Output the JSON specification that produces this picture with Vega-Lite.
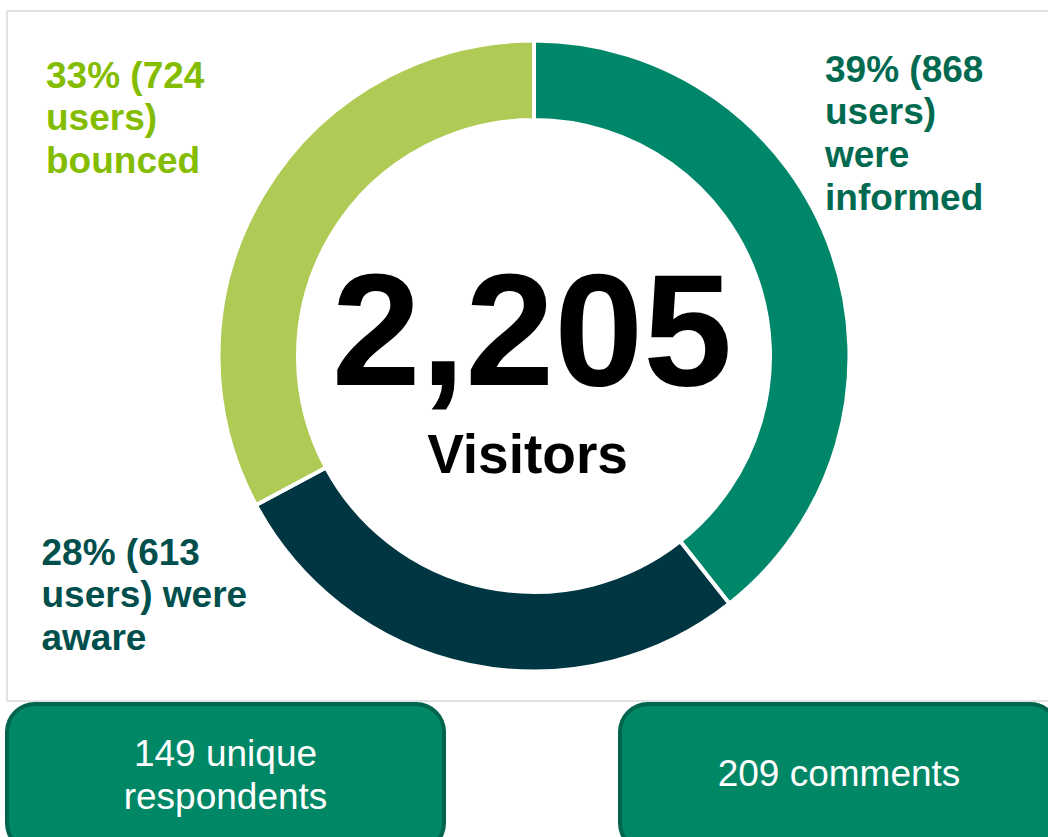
{
  "$schema": "https://vega.github.io/schema/vega-lite/v6.json",
  "background": "white",
  "padding": {"left": 5, "top": 10, "right": 0, "bottom": 0},
  "config": {"font": "Liberation Sans", "concat": {"spacing": 0}},
  "datasets": {
    "visitors": [
      {"category": "informed", "order": 1, "users": 868, "pct": 39, "label": ["39% (868", "users)", "were", "informed"]},
      {"category": "aware", "order": 2, "users": 613, "pct": 28, "label": ["28% (613", "users) were", "aware"]},
      {"category": "bounced", "order": 3, "users": 724, "pct": 33, "label": ["33% (724", "users)", "bounced"]}
    ],
    "engagement": [
      {"metric": "respondents", "count": 149, "label": ["149 unique", "respondents"]},
      {"metric": "comments", "count": 209, "label": ["209 comments"]}
    ]
  },
  "vconcat": [
    {
      "width": 1054,
      "height": 690,
      "view": {"stroke": "#d9d9d9", "strokeWidth": 1.5},
      "data": {"name": "visitors"},
      "layer": [
        {
          "mark": {"type": "arc", "innerRadius": 236, "outerRadius": 315.5, "stroke": "white", "strokeWidth": 4},
          "encoding": {
            "theta": {"field": "users", "type": "quantitative", "stack": true},
            "order": {"field": "order", "type": "ordinal"},
            "color": {"field": "category", "type": "nominal", "legend": null,
              "scale": {"domain": ["informed", "aware", "bounced"], "range": ["#00876A", "#003641", "#B0CB55"]}}
          }
        },
        {
          "transform": [{"aggregate": [{"op": "sum", "field": "users", "as": "total"}]}],
          "mark": {"type": "text", "fontSize": 160, "fontWeight": "bold", "color": "black", "align": "center", "baseline": "alphabetic", "dx": -2, "dy": 28.5},
          "encoding": {"text": {"field": "total", "type": "quantitative", "format": ",d"}}
        },
        {
          "transform": [{"aggregate": [{"op": "sum", "field": "users", "as": "total"}]}],
          "mark": {"type": "text", "fontSize": 55, "fontWeight": "bold", "color": "black", "align": "center", "baseline": "alphabetic", "dx": -6.5, "dy": 116.5},
          "encoding": {"text": {"value": "Visitors"}}
        },
        {
          "transform": [{"filter": "datum.category == 'informed'"}],
          "mark": {"type": "text", "fontSize": 37, "fontWeight": "bold", "color": "#006A50", "align": "left", "baseline": "alphabetic", "lineHeight": 42.7, "dx": 291, "dy": -274.5},
          "encoding": {"text": {"field": "label"}}
        },
        {
          "transform": [{"filter": "datum.category == 'bounced'"}],
          "mark": {"type": "text", "fontSize": 37, "fontWeight": "bold", "color": "#84BD00", "align": "left", "baseline": "alphabetic", "lineHeight": 42.5, "dx": -488, "dy": -268.5},
          "encoding": {"text": {"field": "label"}}
        },
        {
          "transform": [{"filter": "datum.category == 'aware'"}],
          "mark": {"type": "text", "fontSize": 37, "fontWeight": "bold", "color": "#004F4C", "align": "left", "baseline": "alphabetic", "lineHeight": 42.5, "dx": -492.5, "dy": 208.5},
          "encoding": {"text": {"field": "label"}}
        }
      ]
    },
    {
      "hconcat": [
        {
          "width": 437,
          "height": 147,
          "view": {"fill": "#008766", "stroke": "#00654C", "strokeWidth": 4, "cornerRadius": 28},
          "data": {"name": "engagement"},
          "transform": [{"filter": "datum.metric == 'respondents'"}],
          "mark": {"type": "text", "fontSize": 37, "color": "white", "align": "center", "baseline": "alphabetic", "lineHeight": 43, "dy": -11.5},
          "encoding": {"text": {"field": "label"}}
        },
        {
          "width": 438,
          "height": 147,
          "view": {"fill": "#008766", "stroke": "#00654C", "strokeWidth": 4, "cornerRadius": 28},
          "data": {"name": "engagement"},
          "transform": [{"filter": "datum.metric == 'comments'"}],
          "mark": {"type": "text", "fontSize": 37, "color": "white", "align": "center", "baseline": "alphabetic", "lineHeight": 43, "dy": 8.5},
          "encoding": {"text": {"field": "label"}}
        }
      ],
      "spacing": 172
    }
  ],
  "spacing": 0
}
